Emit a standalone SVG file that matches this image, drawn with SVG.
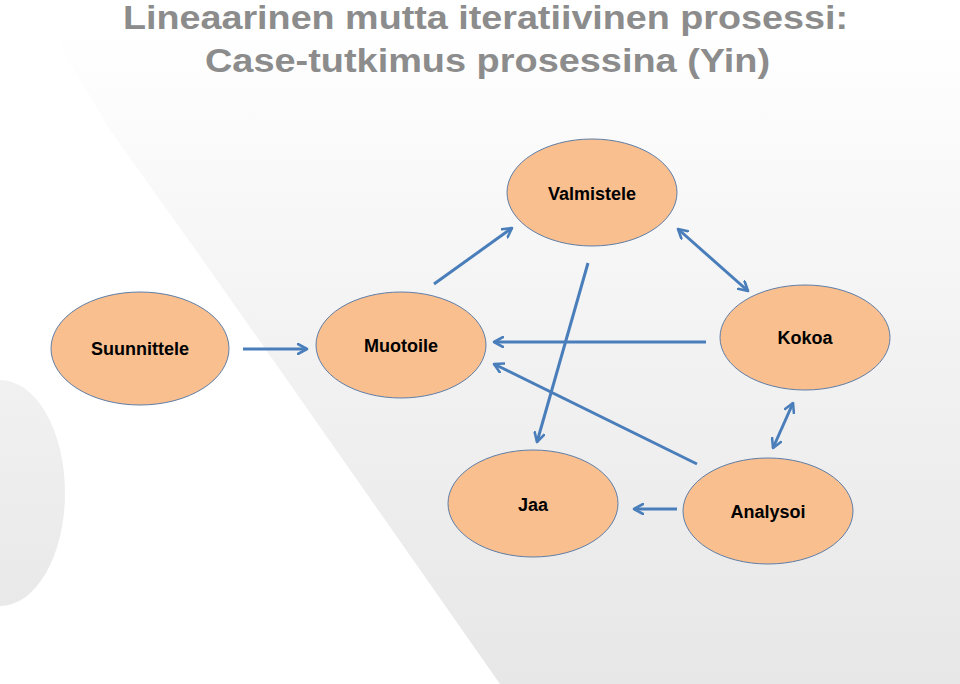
<svg xmlns="http://www.w3.org/2000/svg" width="960" height="684" viewBox="0 0 960 684">
<defs>
<linearGradient id="bg" x1="0" y1="30" x2="0" y2="684" gradientUnits="userSpaceOnUse">
<stop offset="0" stop-color="#ffffff"/>
<stop offset="0.45" stop-color="#f3f3f3"/>
<stop offset="1" stop-color="#e7e7e7"/>
</linearGradient>
<linearGradient id="circ" x1="0" y1="0" x2="0" y2="1">
<stop offset="0" stop-color="#f1f1f1"/>
<stop offset="1" stop-color="#e9e9e9"/>
</linearGradient>
<marker id="ah" viewBox="0 0 12 12" refX="10" refY="6" markerWidth="12" markerHeight="12" markerUnits="userSpaceOnUse" orient="auto-start-reverse">
<path d="M1,1 L10,6 L1,11" fill="none" stroke="#4A7EBB" stroke-width="2.6" stroke-linecap="round" stroke-linejoin="round"/>
</marker>
<style>
.n ellipse{fill:#F9BF8F;stroke:#5F7EA8;stroke-width:1}
.n text{font-family:"Liberation Sans",Arial,sans-serif;font-weight:bold;font-size:18px;fill:#000;text-anchor:middle}
.c line{stroke:#4A7EBB;stroke-width:3;fill:none}
.t{font-family:"Liberation Sans Narrow","Liberation Sans",Arial,sans-serif;font-weight:bold;font-size:34px;fill:#8C8C8C}
</style>
</defs>
<rect width="960" height="684" fill="#ffffff"/>
<path d="M50,29 L110,130 L217,280 L500,684 L960,684 L960,29 Z" fill="url(#bg)"/>
<ellipse cx="0" cy="493" rx="65" ry="113" fill="url(#circ)"/>
<text class="t" x="123" y="29" textLength="725" lengthAdjust="spacingAndGlyphs">Lineaarinen mutta iteratiivinen prosessi:</text>
<text class="t" x="205" y="72" textLength="565" lengthAdjust="spacingAndGlyphs">Case-tutkimus prosessina (Yin)</text>
<g class="c" id="connectors">
<line x1="243" y1="349" x2="307" y2="349" marker-end="url(#ah)"/>
<line x1="434" y1="284" x2="512" y2="228" marker-end="url(#ah)"/>
<line x1="678" y1="229" x2="748" y2="291" marker-start="url(#ah)" marker-end="url(#ah)"/>
<line x1="588" y1="263" x2="537" y2="442" marker-end="url(#ah)"/>
<line x1="706" y1="342" x2="494" y2="342" marker-end="url(#ah)"/>
<line x1="697" y1="464" x2="494" y2="364" marker-end="url(#ah)"/>
<line x1="793" y1="403" x2="773" y2="448" marker-start="url(#ah)" marker-end="url(#ah)"/>
<line x1="677" y1="509" x2="634" y2="509" marker-end="url(#ah)"/>
</g>
<g class="n" id="valmistele"><ellipse cx="592" cy="192.5" rx="85" ry="53.5"/><text x="592" y="200">Valmistele</text></g>
<g class="n" id="suunnittele"><ellipse cx="140" cy="348.5" rx="89" ry="56.5"/><text x="140" y="355">Suunnittele</text></g>
<g class="n" id="muotoile"><ellipse cx="401" cy="345" rx="85" ry="53"/><text x="401" y="352">Muotoile</text></g>
<g class="n" id="kokoa"><ellipse cx="805" cy="337.5" rx="85" ry="52.5"/><text x="805" y="344">Kokoa</text></g>
<g class="n" id="jaa"><ellipse cx="533" cy="503.5" rx="85" ry="53.5"/><text x="533" y="511">Jaa</text></g>
<g class="n" id="analysoi"><ellipse cx="768" cy="511" rx="85" ry="53"/><text x="768" y="518">Analysoi</text></g>
</svg>
